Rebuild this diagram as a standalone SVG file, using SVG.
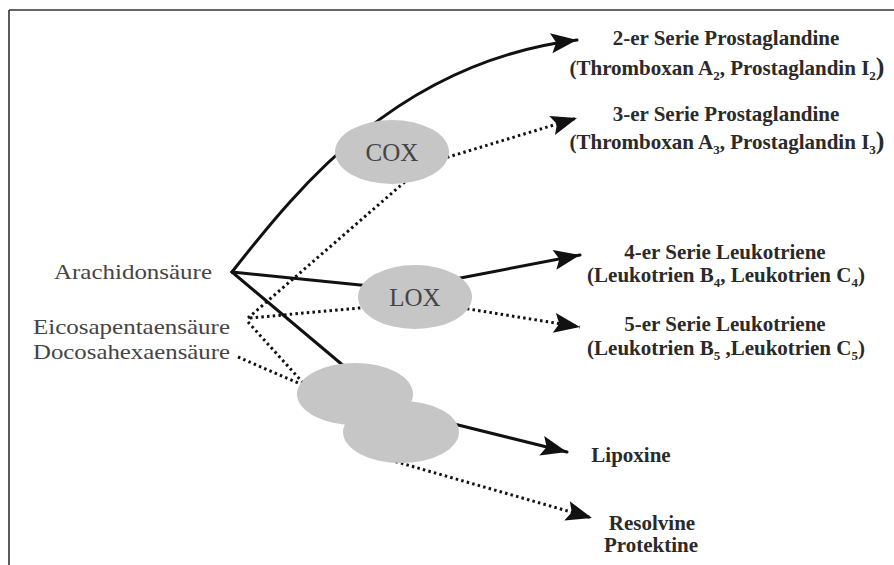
<svg xmlns="http://www.w3.org/2000/svg" width="894" height="565" viewBox="0 0 894 565">
<defs>
<style>
.solid{fill:none;stroke:#111;stroke-width:3;stroke-linecap:round;stroke-linejoin:round}
.dot{fill:none;stroke:#111;stroke-width:3;stroke-dasharray:2.5 3.2}
.enz{fill:#c6c6c6;stroke:none}
.lbl{font-family:"Liberation Serif","Times New Roman",serif;font-size:22px;fill:#444}
.enzt{font-family:"Liberation Serif","Times New Roman",serif;font-size:25px;fill:#444;text-anchor:middle}
.prod{font-family:"Liberation Serif","Times New Roman",serif;font-size:21px;font-weight:bold;fill:#2a2a2a;text-anchor:middle}
.sub{font-size:13px}
.bp{font-size:26px}
</style>
<marker id="ah" markerUnits="userSpaceOnUse" markerWidth="28" markerHeight="22" refX="26" refY="10" orient="auto" overflow="visible">
<path d="M0,0 L26,10 L0,20 L5,10 Z" fill="#111"/>
</marker>
</defs>
<rect x="0" y="0" width="894" height="565" fill="#fff"/>
<g id="frame">
<line x1="9" y1="10" x2="894" y2="10" stroke="#333" stroke-width="1.6"/>
<line x1="9" y1="10" x2="9" y2="565" stroke="#333" stroke-width="1.6"/>
</g>
<g id="connectors">
<path class="solid" d="M232,272 C300,185 400,62 577,40" marker-end="url(#ah)"/>
<path class="solid" d="M232,272 L380,287 L450,280 L580,255" marker-end="url(#ah)"/>
<path class="solid" d="M232,272 L345,367"/>
<path class="solid" d="M430,418 L567,452" marker-end="url(#ah)"/>
<path class="dot" d="M248,318 L407,180 L445,158 L577,118" marker-end="url(#ah)"/>
<path class="dot" d="M250,318 L370,307"/>
<path class="dot" d="M450,306 L580,327" marker-end="url(#ah)"/>
<path class="dot" d="M248,322 L305,385"/>
<path class="dot" d="M238,357 L310,388"/>
<path class="dot" d="M390,460 L592,518" marker-end="url(#ah)"/>
</g>
<g id="cox"><ellipse class="enz" cx="392" cy="152" rx="57" ry="32"/><text class="enzt" x="392" y="161">COX</text></g>
<g id="lox"><ellipse class="enz" cx="415" cy="297" rx="57" ry="32"/><text class="enzt" x="415" y="306">LOX</text></g>
<g id="enzyme3"><ellipse class="enz" cx="355" cy="394" rx="58" ry="31"/></g>
<g id="enzyme4"><ellipse class="enz" cx="401" cy="432" rx="58" ry="31"/></g>
<g id="aa"><text class="lbl" x="54" y="279" textLength="158" lengthAdjust="spacingAndGlyphs">Arachidonsäure</text></g>
<g id="epa"><text class="lbl" x="33" y="334" textLength="197" lengthAdjust="spacingAndGlyphs">Eicosapentaensäure</text></g>
<g id="dha"><text class="lbl" x="33" y="359" textLength="197" lengthAdjust="spacingAndGlyphs">Docosahexaensäure</text></g>
<g id="pg2">
<text class="prod" x="726" y="45">2-er Serie Prostaglandine</text>
<text class="prod" x="727" y="75">(Thromboxan A<tspan class="sub" dy="5">2</tspan><tspan dy="-5">, Prostaglandin I</tspan><tspan class="sub" dy="5">2</tspan><tspan class="bp" dy="-5">)</tspan></text>
</g>
<g id="pg3">
<text class="prod" x="726" y="121">3-er Serie Prostaglandine</text>
<text class="prod" x="727" y="149">(Thromboxan A<tspan class="sub" dy="5">3</tspan><tspan dy="-5">, Prostaglandin I</tspan><tspan class="sub" dy="5">3</tspan><tspan class="bp" dy="-5">)</tspan></text>
</g>
<g id="lt4">
<text class="prod" x="725" y="259">4-er Serie Leukotriene</text>
<text class="prod" x="726" y="282">(Leukotrien B<tspan class="sub" dy="5">4</tspan><tspan dy="-5">, Leukotrien C</tspan><tspan class="sub" dy="5">4</tspan><tspan dy="-5">)</tspan></text>
</g>
<g id="lt5">
<text class="prod" x="725" y="331">5-er Serie Leukotriene</text>
<text class="prod" x="726" y="355">(Leukotrien B<tspan class="sub" dy="5">5</tspan><tspan dy="-5"> ,Leukotrien C</tspan><tspan class="sub" dy="5">5</tspan><tspan dy="-5">)</tspan></text>
</g>
<g id="lipoxine"><text class="prod" x="631" y="462">Lipoxine</text></g>
<g id="resolvine">
<text class="prod" x="652" y="530">Resolvine</text>
<text class="prod" x="651" y="552">Protektine</text>
</g>
</svg>
